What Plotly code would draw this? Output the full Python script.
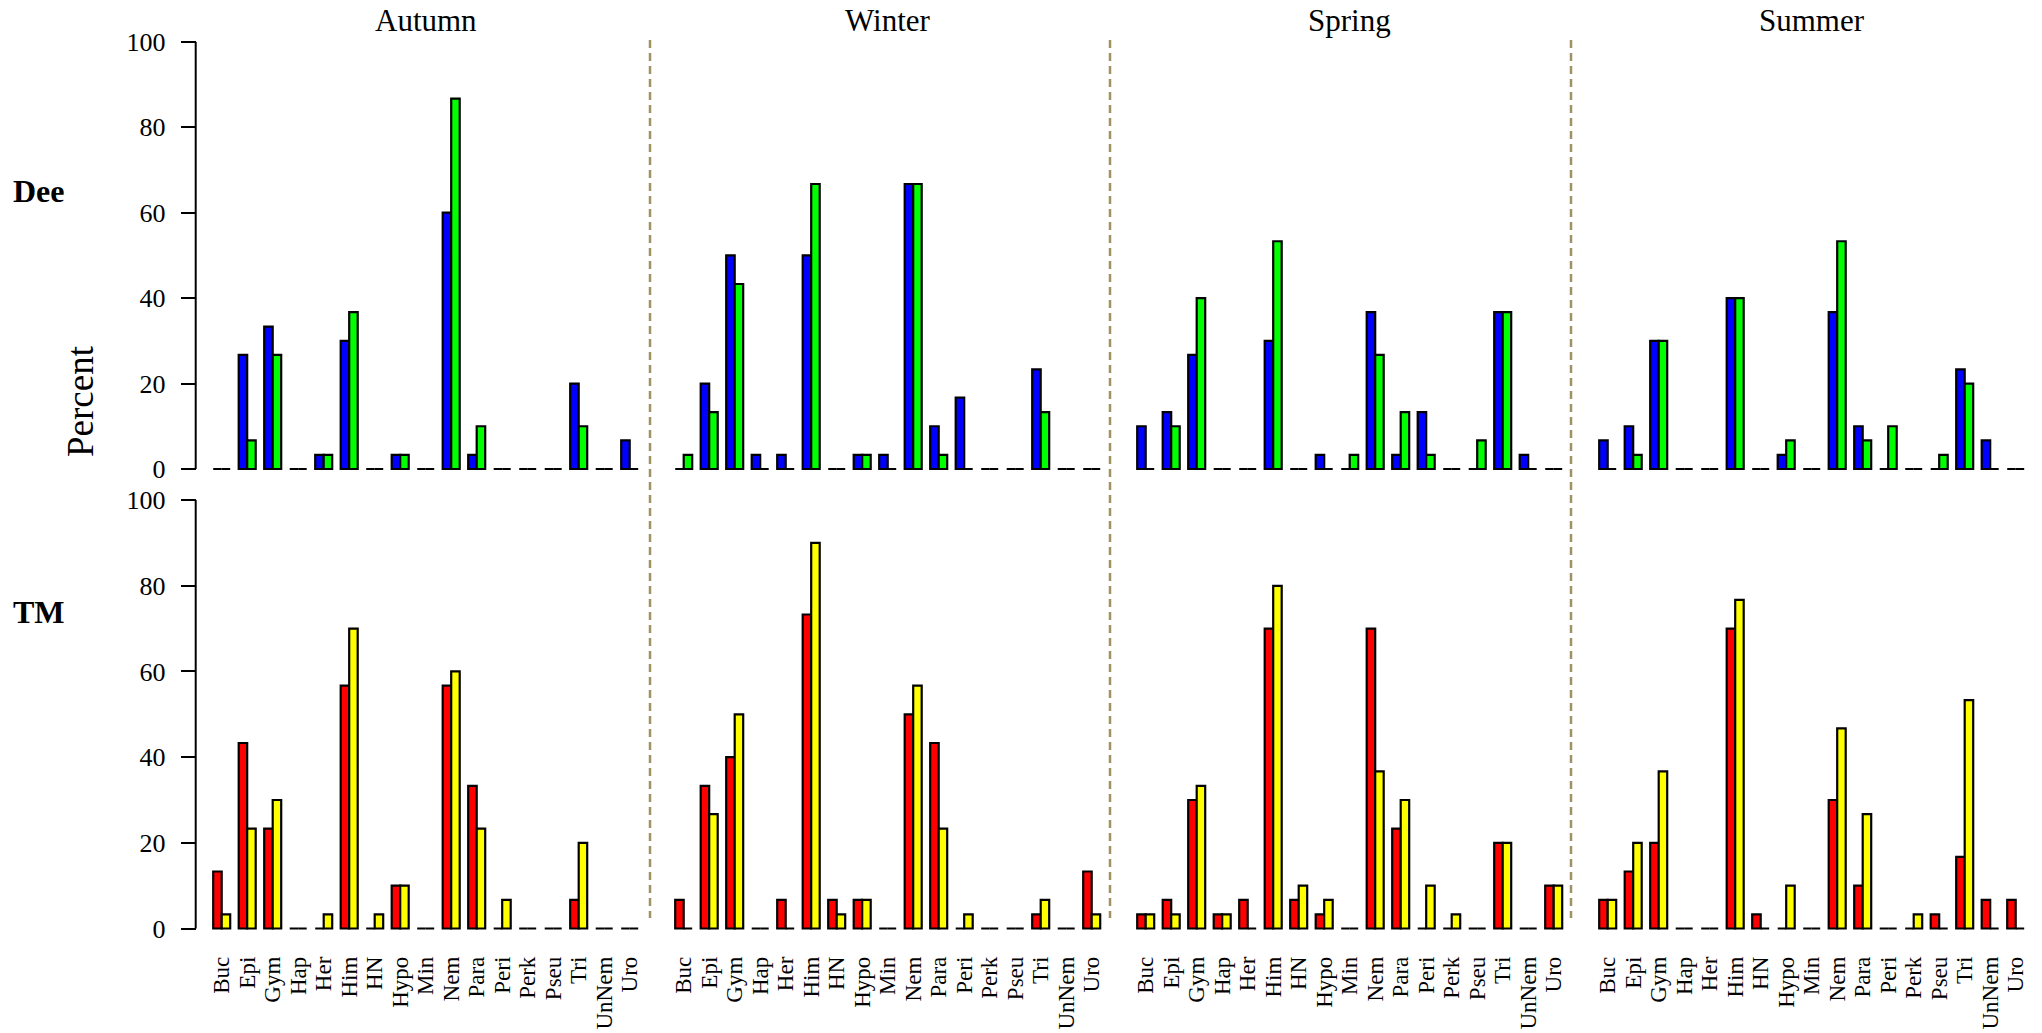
import plotly.graph_objects as go

# Taxon categories shown on every panel
categories = ["Buc", "Epi", "Gym", "Hap", "Her", "Him", "HN", "Hypo", "Min",
              "Nem", "Para", "Peri", "Perk", "Pseu", "Tri", "UnNem", "Uro"]
seasons = ["Autumn", "Winter", "Spring", "Summer"]
sites = ["Dee", "TM"]
y_ticks = [0, 20, 40, 60, 80, 100]

# Dee: percent occurrence, two samples per season
dee_autumn_a = [0, 26.7, 33.3, 0, 3.3, 30, 0, 3.3, 0, 60, 3.3, 0, 0, 0, 20, 0, 6.7]
dee_autumn_b = [0, 6.7, 26.7, 0, 3.3, 36.7, 0, 3.3, 0, 86.7, 10, 0, 0, 0, 10, 0, 0]
dee_winter_a = [0, 20, 50, 3.3, 3.3, 50, 0, 3.3, 3.3, 66.7, 10, 16.7, 0, 0, 23.3, 0, 0]
dee_winter_b = [3.3, 13.3, 43.3, 0, 0, 66.7, 0, 3.3, 0, 66.7, 3.3, 0, 0, 0, 13.3, 0, 0]
dee_spring_a = [10, 13.3, 26.7, 0, 0, 30, 0, 3.3, 0, 36.7, 3.3, 13.3, 0, 0, 36.7, 3.3, 0]
dee_spring_b = [0, 10, 40, 0, 0, 53.3, 0, 0, 3.3, 26.7, 13.3, 3.3, 0, 6.7, 36.7, 0, 0]
dee_summer_a = [6.7, 10, 30, 0, 0, 40, 0, 3.3, 0, 36.7, 10, 0, 0, 0, 23.3, 6.7, 0]
dee_summer_b = [0, 3.3, 30, 0, 0, 40, 0, 6.7, 0, 53.3, 6.7, 10, 0, 3.3, 20, 0, 0]

# TM: percent occurrence, two samples per season
tm_autumn_a = [13.3, 43.3, 23.3, 0, 0, 56.7, 0, 10, 0, 56.7, 33.3, 0, 0, 0, 6.7, 0, 0]
tm_autumn_b = [3.3, 23.3, 30, 0, 3.3, 70, 3.3, 10, 0, 60, 23.3, 6.7, 0, 0, 20, 0, 0]
tm_winter_a = [6.7, 33.3, 40, 0, 6.7, 73.3, 6.7, 6.7, 0, 50, 43.3, 0, 0, 0, 3.3, 0, 13.3]
tm_winter_b = [0, 26.7, 50, 0, 0, 90, 3.3, 6.7, 0, 56.7, 23.3, 3.3, 0, 0, 6.7, 0, 3.3]
tm_spring_a = [3.3, 6.7, 30, 3.3, 6.7, 70, 6.7, 3.3, 0, 70, 23.3, 0, 0, 0, 20, 0, 10]
tm_spring_b = [3.3, 3.3, 33.3, 3.3, 0, 80, 10, 6.7, 0, 36.7, 30, 10, 3.3, 0, 20, 0, 10]
tm_summer_a = [6.7, 13.3, 20, 0, 0, 70, 3.3, 0, 0, 30, 10, 0, 0, 3.3, 16.7, 6.7, 6.7]
tm_summer_b = [6.7, 20, 36.7, 0, 0, 76.7, 0, 10, 0, 46.7, 26.7, 0, 3.3, 0, 53.3, 0, 0]

dee_series = [(dee_autumn_a, dee_autumn_b), (dee_winter_a, dee_winter_b),
              (dee_spring_a, dee_spring_b), (dee_summer_a, dee_summer_b)]
tm_series = [(tm_autumn_a, tm_autumn_b), (tm_winter_a, tm_winter_b),
             (tm_spring_a, tm_spring_b), (tm_summer_a, tm_summer_b)]

row_colors = [("#0000FF", "#00FF00"), ("#FF0000", "#FFFF00")]

W, H = 2042, 1033
FONT = "Liberation Serif"
Y_MIN = -0.7  # a little room so the outline of empty bars is not cut


def px_x(p):
    return p / W


def px_y(p):
    return 1 - p / H


# panel geometry in pixels
panel_left = [208.95 + 462 * i for i in range(4)]
panel_width = 433.5
axis_x = 195.7
row_y = [(469.0, 41.7), (928.5, 500.1)]  # (pixel of 0, pixel of 100)

fig = go.Figure()
layout_axes = {}
shapes = []

for r, series in enumerate([dee_series, tm_series]):
    y0_px, y100_px = row_y[r]
    unit = (y0_px - y100_px) / 100.0
    dom = [px_y(y0_px - Y_MIN * unit), px_y(y100_px)]
    for c in range(4):
        k = r * 4 + c + 1
        xa = "x" if k == 1 else f"x{k}"
        ya = "y" if k == 1 else f"y{k}"
        a, b = series[c]
        for vals, col in zip((a, b), row_colors[r]):
            fig.add_trace(go.Bar(
                x=categories, y=vals, xaxis=xa, yaxis=ya,
                marker=dict(color=col, line=dict(color="black", width=2.2)),
                cliponaxis=False, showlegend=False,
                name=f"{sites[r]} {seasons[c]}",
            ))
        xkey = "xaxis" if k == 1 else f"xaxis{k}"
        ykey = "yaxis" if k == 1 else f"yaxis{k}"
        layout_axes[xkey] = dict(
            domain=[px_x(panel_left[c]), px_x(panel_left[c] + panel_width)],
            anchor=ya, type="category", categoryorder="array",
            categoryarray=categories, range=[-0.5, 16.5],
            tickmode="array", tickvals=categories, ticktext=categories,
            showgrid=False, zeroline=False, showline=False,
            showticklabels=(r == 1), tickangle=-90,
            ticks="outside" if r == 1 else "", ticklen=15,
            tickcolor="rgba(0,0,0,0)",
            tickfont=dict(family=FONT, size=23, color="black"),
        )
        ycfg = dict(domain=dom, range=[Y_MIN, 100],
                    showgrid=False, zeroline=False, showline=False)
        if c == 0:
            ycfg.update(
                anchor="free", position=px_x(axis_x), ticks="outside",
                ticklen=15, tickwidth=2, tickcolor="black",
                tickmode="array", tickvals=y_ticks,
                ticktext=[str(t) for t in y_ticks], ticklabelstandoff=10,
                tickfont=dict(family=FONT, size=26, color="black"),
            )
            # axis line spanning 0..100 only
            shapes.append(dict(
                type="line", xref="paper", yref=ya,
                x0=px_x(axis_x), x1=px_x(axis_x), y0=0, y1=100,
                line=dict(color="black", width=2),
            ))
        else:
            ycfg.update(anchor=xa, visible=False)
        layout_axes[ykey] = ycfg

annotations = []
for c, s in enumerate(seasons):
    annotations.append(dict(
        text=s, x=px_x(panel_left[c] + panel_width / 2), y=px_y(20),
        xref="paper", yref="paper", showarrow=False,
        font=dict(family=FONT, size=31, color="black"),
        xanchor="center", yanchor="middle",
    ))
for r, site in enumerate(sites):
    annotations.append(dict(
        text=f"<b>{site}</b>", x=px_x(39), y=px_y([191, 612][r]),
        xref="paper", yref="paper", showarrow=False,
        font=dict(family=FONT, size=32, color="black"),
        xanchor="center", yanchor="middle",
    ))
annotations.append(dict(
    text="Percent", x=px_x(81), y=px_y(401), textangle=-90,
    xref="paper", yref="paper", showarrow=False,
    font=dict(family=FONT, size=37, color="black"),
    xanchor="center", yanchor="middle",
))

# dashed separators between seasons
for xp in [650, 1110, 1571]:
    shapes.append(dict(
        type="line", xref="paper", yref="paper",
        x0=px_x(xp), x1=px_x(xp), y0=px_y(40), y1=px_y(918),
        line=dict(color="#A09262", width=2.5, dash="8px,5px"),
    ))

fig.update_layout(
    width=W, height=H,
    margin=dict(l=0, r=0, t=0, b=0, autoexpand=False),
    paper_bgcolor="white", plot_bgcolor="white",
    barmode="group", bargap=1 / 3, bargroupgap=0,
    annotations=annotations, shapes=shapes,
    **layout_axes,
)

fig.write_html("out.html")
